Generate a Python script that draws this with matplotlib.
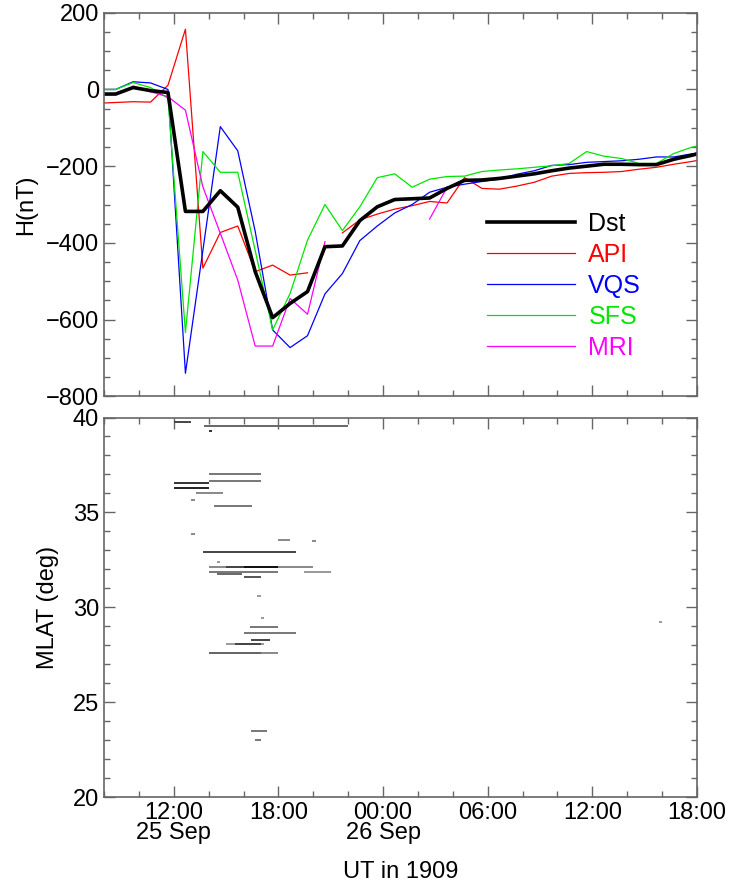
import numpy as np
import matplotlib
matplotlib.use('Agg')
import matplotlib.pyplot as plt

plt.rcParams['font.family'] = ['Liberation Sans', 'DejaVu Sans']

# hours since 25 Sep 1909 00:00 UT (hourly values plotted at hh:40)
hours = [7.67 + i for i in range(36)]

dst = [-12, -12, 5, -3, -8, -318, -318, -264, -307, -475, -595, -558, -527, -410,
       -408, -342, -306, -287, -285, -283, -258, -237, -236, -232, -226, -220,
       -212, -205, -200, -195, -195, -196, -196, -182, -172, -160]
api = [-36, -34, -32, -33, 11, 157, -466, -373, -356, -475, -458, -484, -478, np.nan,
       -374, -340, -325, -312, -303, -292, -296, -230, -258, -260, -252, -242,
       -226, -219, -217, -216, -214, -208, -203, -195, -188, -180]
vqs = [0, 0, 20, 17, 0, -740, -420, -97, -160, -370, -627, -673, -642, -533,
       -480, -394, -356, -322, -300, -268, -255, -247, -240, -234, -221, -212,
       -198, -196, -190, -188, -186, -182, -176, -176, -168, -162]
sfs = [0, 0, 18, 5, -23, -634, -162, -216, -216, -420, -627, -532, -393, -300,
       -368, -306, -230, -220, -255, -234, -227, -226, -214, -210, -207, -203,
       -199, -193, -162, -174, -180, -193, -193, -167, -151, -140]
mri = [np.nan, np.nan, 9, -6, -19, -54, -254, -375, -497, -669, -669, -545, -586, -397,
       np.nan, np.nan, np.nan, np.nan, np.nan, -338, -255, np.nan, np.nan, np.nan,
       np.nan, np.nan, np.nan, np.nan, np.nan, np.nan, np.nan, np.nan, np.nan,
       np.nan, np.nan, np.nan]

# low-latitude aurora reports: start hour, end hour, MLAT, grey level
obs_start = [12, 13.75, 14, 14, 14, 12, 12, 13.25, 13, 14.33, 13, 18, 19.95, 13.67,
             14.5, 14, 15, 16, 14, 19.45, 14.5, 16, 16.8, 17, 16.4, 16, 16.45,
             15, 15.5, 14, 14, 16.45, 16.65, 39.8]
obs_end = [13, 22, 14.2, 17, 17, 14, 14, 14.85, 13.2, 16.5, 13.2, 18.65, 20.15, 19,
           14.65, 20, 18, 18, 18, 21, 15.9, 17, 17, 17.2, 18, 19, 17.5,
           17.15, 17, 18, 17, 17.35, 17, 40]
obs_mlat = [39.75, 39.57, 39.27, 37.0, 36.65, 36.55, 36.27, 36.0, 35.66, 35.35, 33.85,
            33.55, 33.5, 32.9, 32.4, 32.1, 32.1, 32.1, 31.87, 31.88, 31.73, 31.57,
            30.6, 29.45, 28.97, 28.64, 28.3, 28.06, 28.06, 27.57, 27.57, 23.5,
            23.03, 29.22]
obs_grey = ['#444444', '#666666', '#333333', '#777777', '#777777', '#333333', '#222222',
            '#888888', '#888888', '#777777', '#888888', '#888888', '#888888', '#444444',
            '#999999', '#888888', '#444444', '#111111', '#777777', '#999999', '#666666',
            '#555555', '#999999', '#999999', '#777777', '#777777', '#444444', '#999999',
            '#444444', '#888888', '#666666', '#777777', '#777777', '#999999']

major_ticks = [12, 18, 24, 30, 36, 42]
tick_labels = ['12:00\n25 Sep', '18:00', '00:00\n26 Sep', '06:00', '12:00', '18:00']

fig = plt.figure(figsize=(7.4, 8.84), dpi=100)
ax1 = fig.add_axes([0.1405, 0.5517, 0.8014, 0.4339])
ax2 = fig.add_axes([0.1405, 0.0984, 0.8014, 0.4293])

frame = '#666666'
for ax in (ax1, ax2):
    ax.set_xlim(8, 42)
    ax.set_xticks(major_ticks)
    ax.set_xticks(np.arange(8, 43, 2), minor=True)
    ax.tick_params(which='both', direction='in', top=True, right=True,
                   color=frame, labelsize=17, width=1)
    ax.tick_params(which='major', length=8)
    ax.tick_params(which='minor', length=4.5)
    for s in ax.spines.values():
        s.set_color(frame)
        s.set_linewidth(1.2)

ax1.plot(hours, api, color='#ff0000', lw=0.9, label='API')
ax1.plot(hours, vqs, color='#0000ff', lw=0.9, label='VQS')
ax1.plot(hours, sfs, color='#00e600', lw=0.9, label='SFS')
ax1.plot(hours, mri, color='#ff00ff', lw=0.9, label='MRI')
ax1.plot(hours, dst, color='black', lw=2.6, label='Dst')
ax1.set_ylim(-800, 200)
ax1.set_yticks([-800, -600, -400, -200, 0, 200])
ax1.set_yticks(np.arange(-800, 201, 50), minor=True)
ax1.set_xticklabels([])
ax1.set_ylabel('H(nT)', fontsize=17, labelpad=6)

h, l = ax1.get_legend_handles_labels()
order = [4, 0, 1, 2, 3]
leg = ax1.legend([h[i] for i in order], [l[i] for i in order], loc='upper left',
                 bbox_to_anchor=(0.625, 0.513), frameon=False, fontsize=18,
                 handlelength=3.5, handletextpad=0.55, labelspacing=0.28,
                 borderpad=0)
for txt, ln in zip(leg.get_texts(), leg.get_lines()):
    txt.set_color(ln.get_color())

ax2.hlines(obs_mlat, obs_start, obs_end, colors=obs_grey, lw=1.4)
ax2.set_ylim(20, 40)
ax2.set_yticks([20, 25, 30, 35, 40])
ax2.set_yticks(np.arange(20, 41, 1), minor=True)
ax2.set_xticklabels(tick_labels, linespacing=0.9)
ax2.set_ylabel('MLAT (deg)', fontsize=17, labelpad=10)
ax2.set_xlabel('UT in 1909', fontsize=17, labelpad=12)

fig.savefig('out.png', dpi=100)
